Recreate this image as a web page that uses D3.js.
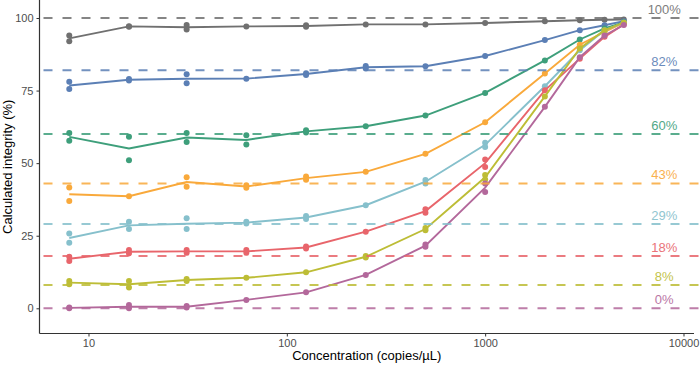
<!DOCTYPE html>
<html>
<head>
<meta charset="utf-8">
<script src="https://cdn.jsdelivr.net/npm/d3@7"></script>
<style>
  body { margin: 0; background: #fff; }
  svg { display: block; font-family: "Liberation Sans", Arial, sans-serif; }
</style>
</head>
<body>
<div id="chart"></div>
<script>
const WIDTH = 700;
const HEIGHT = 365;

// concentrations (copies/µL)
const concentrations = [8, 16, 31.25, 62.5, 125, 250, 500, 1000, 2000, 3000, 4000, 5000];

// expected integrity levels (%), one per series
const levels = [100, 82, 60, 43, 29, 18, 8, 0];
const levelLabels = ["100%", "82%", "60%", "43%", "29%", "18%", "8%", "0%"];
const colors = ["#707070", "#5b7fb5", "#3e9f7b", "#f9a93b", "#86c0cc", "#e8656b", "#bdbd36", "#b3689b"];

// measured replicates per concentration, one list per series
const s100 = [[94, 92], [97.2, 97], [97.6, 96], [97.1], [97.5, 97], [97.8], [97.8], [98.3], [98.9], [99.2], [99.4], [99.5]];
const s82 = [[78, 75.5], [79, 78.5], [80.6, 77.5], [79.1], [81, 80.4], [83.5, 82.6], [83.4], [86.9], [92.4], [95.8], [97.5], [98.9]];
const s60 = [[60.4, 57.7], [59.1, 51], [60.4, 57.3], [59.6, 56.4], [61.3, 60.6], [62.7], [66.4], [74.2], [85.4], [92.6], [96.4], [98.5]];
const s43 = [[41.6, 37], [38.6], [45.1, 41.9], [42.4, 41.5], [45.4, 44.3], [47], [53.2], [64.1], [80.9], [90.8], [95.2], [98.4]];
const s29 = [[25.8, 22.6], [29.8, 27.3], [31, 27.3], [29.8, 29.2], [31.8, 30.8], [35.5], [44.2, 43], [57, 55.6], [76.5], [88.9], [95.8], [98.3]];
const s18 = [[17.8, 16.3], [20.1, 18.9], [20.1, 19.1], [20.1, 19.1], [21.3, 20.6], [26.4], [34.1, 32.9], [51.3, 48.7], [75.1], [86], [93.5], [97.8]];
const s8 = [[9.4, 8.3], [9.4, 7.2], [10.1, 9.4], [10.5], [12.4], [18, 17.5], [27.7, 26.9], [45.9, 44.4], [73], [89.5], [95.8], [98.4]];
const s0 = [[0.3, 0], [1.1, 0], [0.8, 0.3], [2.9], [5.5], [11.5], [22, 21.2], [43, 40.1], [69.4], [86.5], [94], [97.6]];
const series = [s100, s82, s60, s43, s29, s18, s8, s0];

const xTicks = [10, 100, 1000, 10000];
const yTicks = [0, 25, 50, 75, 100];
const labelAt = 8000;

const svg = d3.select("#chart").append("svg")
  .attr("width", WIDTH)
  .attr("height", HEIGHT);

const left = 39.5, bottom = 333.5, right = 694;

const x = d3.scaleLog().domain([Math.pow(10, 0.753), Math.pow(10, 4.053)]).range([left, right]);
const y = d3.scaleLinear().domain([0, 100]).range([308.3, 18]);

// lines through replicate means
const line = d3.line().x(d => x(d.c)).y(d => y(d.v));

series.forEach((s, i) => {
  const means = s.map((reps, j) => ({ c: concentrations[j], v: d3.mean(reps) }));
  const pts = s.flatMap((reps, j) => reps.map(v => ({ c: concentrations[j], v })));

  svg.append("path")
    .datum(means)
    .attr("d", line)
    .attr("fill", "none")
    .attr("stroke", colors[i])
    .attr("stroke-width", 1.9);

  svg.append("g").selectAll("circle")
    .data(pts)
    .join("circle")
    .attr("cx", d => x(d.c))
    .attr("cy", d => y(d.v))
    .attr("r", 3)
    .attr("fill", colors[i]);
});

// expected levels: dashed lines and labels
levels.forEach((lv, i) => {
  svg.append("line")
    .attr("x1", left).attr("x2", WIDTH)
    .attr("y1", y(lv)).attr("y2", y(lv))
    .attr("stroke", colors[i])
    .attr("stroke-width", 2)
    .attr("stroke-dasharray", "9,10")
    .attr("stroke-dashoffset", -4)
    .attr("opacity", 0.85);

  svg.append("text")
    .attr("x", x(labelAt))
    .attr("y", y(lv + 3))
    .attr("dy", "0.35em")
    .attr("text-anchor", "middle")
    .attr("fill", colors[i])
    .attr("opacity", 0.9)
    .style("font-size", "13px")
    .text(levelLabels[i]);
});

// axes
const xAxis = svg.append("g")
  .attr("transform", `translate(0,${bottom})`)
  .call(d3.axisBottom(x).tickValues(xTicks).tickFormat(d3.format("d")).tickSize(3).tickPadding(3));
const yAxis = svg.append("g")
  .attr("transform", `translate(${left},0)`)
  .call(d3.axisLeft(y).tickValues(yTicks).tickSize(3).tickPadding(3));

[xAxis, yAxis].forEach(a => {
  a.select(".domain").remove();
  a.selectAll(".tick line").attr("stroke", "#333").attr("stroke-width", 1);
  a.selectAll(".tick text").attr("fill", "#4d4d4d").style("font-size", "11px").style("font-family", "inherit");
});

svg.append("line")
  .attr("x1", left).attr("x2", left).attr("y1", 0).attr("y2", bottom)
  .attr("stroke", "#333").attr("stroke-width", 1.2);
svg.append("line")
  .attr("x1", left).attr("x2", right).attr("y1", bottom).attr("y2", bottom)
  .attr("stroke", "#333").attr("stroke-width", 1.2);

svg.append("text")
  .attr("x", (left + right) / 2)
  .attr("y", 360)
  .attr("text-anchor", "middle")
  .style("font-size", "13px")
  .text("Concentration (copies/\u00b5L)");

svg.append("text")
  .attr("transform", `translate(12,${(0 + bottom) / 2}) rotate(-90)`)
  .attr("text-anchor", "middle")
  .style("font-size", "13px")
  .text("Calculated integrity (%)");
</script>
</body>
</html>
